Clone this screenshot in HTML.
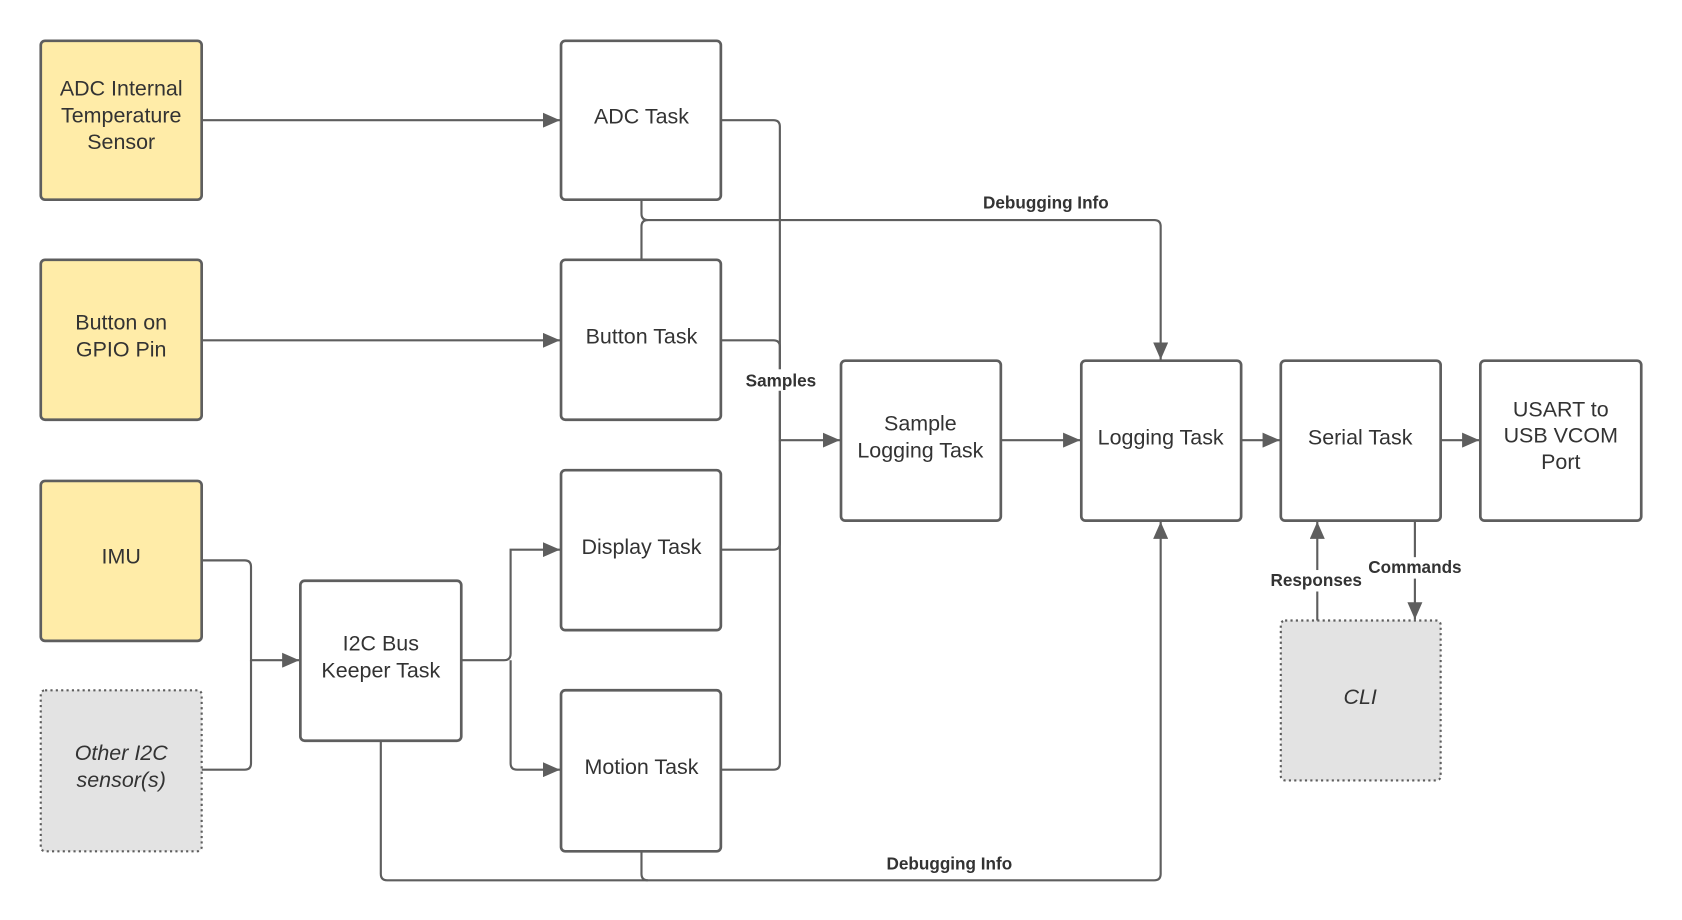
<!DOCTYPE html>
<html><head><meta charset="utf-8"><style>
html,body{margin:0;padding:0;background:#fff;}
svg{display:block;}
text{font-family:"Liberation Sans",sans-serif;fill:#333;}
.t{font-size:20px;text-anchor:middle;}
.l{font-size:16px;font-weight:bold;text-anchor:middle;}
</style></head><body>
<svg width="1682" height="920" viewBox="0 0 1568 857" preserveAspectRatio="none" xmlns="http://www.w3.org/2000/svg">
<defs>
<marker id="b" viewBox="0 0 16 14" markerWidth="16" markerHeight="14" refX="16" refY="7" orient="auto" markerUnits="userSpaceOnUse">
<path d="M0,0 L16,7 L0,14 z" fill="#5e5e5e"/>
</marker>
</defs>
<g fill="none" stroke="#5e5e5e" stroke-width="2">
<path d="M188,112 H522" marker-end="url(#b)"/>
<path d="M188,317 H522" marker-end="url(#b)"/>
<path d="M188,522 H228 Q234,522 234,528 V615 H279" marker-end="url(#b)"/>
<path d="M188,717 H228 Q234,717 234,711 V615"/>
<path d="M430,615 H470 Q476,615 476,609 V512 H522" marker-end="url(#b)"/>
<path d="M476,615 V711 Q476,717 482,717 H522" marker-end="url(#b)"/>
<path d="M672,112 H721 Q727,112 727,118 V410 H783" marker-end="url(#b)"/>
<path d="M672,317 H721 Q727,317 727,323 V410"/>
<path d="M672,512 H721 Q727,512 727,506 V410"/>
<path d="M672,717 H721 Q727,717 727,711 V410"/>
<path d="M598,186 V199 Q598,205 604,205 H1076 Q1082,205 1082,211 V335" marker-end="url(#b)"/>
<path d="M598,242 V211 Q598,205 604,205"/>
<path d="M355,690 V814 Q355,820 361,820 H1076 Q1082,820 1082,814 V486" marker-end="url(#b)"/>
<path d="M598,793 V814 Q598,820 604,820"/>
<path d="M933,410 H1007" marker-end="url(#b)"/>
<path d="M1157,410 H1193" marker-end="url(#b)"/>
<path d="M1343,410 H1379" marker-end="url(#b)"/>
<path d="M1228,578 V486" marker-end="url(#b)"/>
<path d="M1319,485 V577" marker-end="url(#b)"/>
</g>
<g stroke="#5e5e5e" stroke-width="2.5">
<rect x="38" y="38" width="150" height="148" rx="4" fill="#ffeca8"/>
<rect x="38" y="242" width="150" height="149" rx="4" fill="#ffeca8"/>
<rect x="38" y="448" width="150" height="149" rx="4" fill="#ffeca8"/>
<rect x="38" y="643" width="150" height="150" rx="4" fill="#e3e3e3" stroke-dasharray="2,3" stroke-width="2"/>
<rect x="523" y="38" width="149" height="148" rx="4" fill="#fff"/>
<rect x="523" y="242" width="149" height="149" rx="4" fill="#fff"/>
<rect x="523" y="438" width="149" height="149" rx="4" fill="#fff"/>
<rect x="523" y="643" width="149" height="150" rx="4" fill="#fff"/>
<rect x="280" y="541" width="150" height="149" rx="4" fill="#fff"/>
<rect x="784" y="336" width="149" height="149" rx="4" fill="#fff"/>
<rect x="1008" y="336" width="149" height="149" rx="4" fill="#fff"/>
<rect x="1194" y="336" width="149" height="149" rx="4" fill="#fff"/>
<rect x="1380" y="336" width="150" height="149" rx="4" fill="#fff"/>
<rect x="1194" y="578" width="149" height="149" rx="4" fill="#e3e3e3" stroke-dasharray="2,3" stroke-width="2"/>
</g>
<text class="t" x="113" y="89">ADC Internal</text>
<text class="t" x="113" y="114">Temperature</text>
<text class="t" x="113" y="139">Sensor</text>
<text class="t" x="113" y="307">Button on</text>
<text class="t" x="113" y="332">GPIO Pin</text>
<text class="t" x="113" y="525">IMU</text>
<text class="t" x="113" y="708" font-style="italic">Other I2C</text>
<text class="t" x="113" y="733" font-style="italic">sensor(s)</text>
<text class="t" x="598" y="115">ADC Task</text>
<text class="t" x="598" y="320">Button Task</text>
<text class="t" x="598" y="516">Display Task</text>
<text class="t" x="598" y="721">Motion Task</text>
<text class="t" x="355" y="606">I2C Bus</text>
<text class="t" x="355" y="631">Keeper Task</text>
<text class="t" x="858" y="401">Sample</text>
<text class="t" x="858" y="426">Logging Task</text>
<text class="t" x="1082" y="414">Logging Task</text>
<text class="t" x="1268" y="414">Serial Task</text>
<text class="t" x="1455" y="388">USART to</text>
<text class="t" x="1455" y="412">USB VCOM</text>
<text class="t" x="1455" y="437">Port</text>
<text class="t" x="1268" y="656" font-style="italic">CLI</text>
<rect x="690" y="344" width="76" height="20" fill="#fff"/>
<text class="l" x="728" y="360">Samples</text>
<text class="l" x="975" y="194">Debugging Info</text>
<text class="l" x="885" y="810">Debugging Info</text>
<rect x="1180" y="531" width="94" height="20" fill="#fff"/>
<text class="l" x="1227" y="546">Responses</text>
<rect x="1272" y="519" width="94" height="20" fill="#fff"/>
<text class="l" x="1319" y="534">Commands</text>
</svg>
</body></html>
